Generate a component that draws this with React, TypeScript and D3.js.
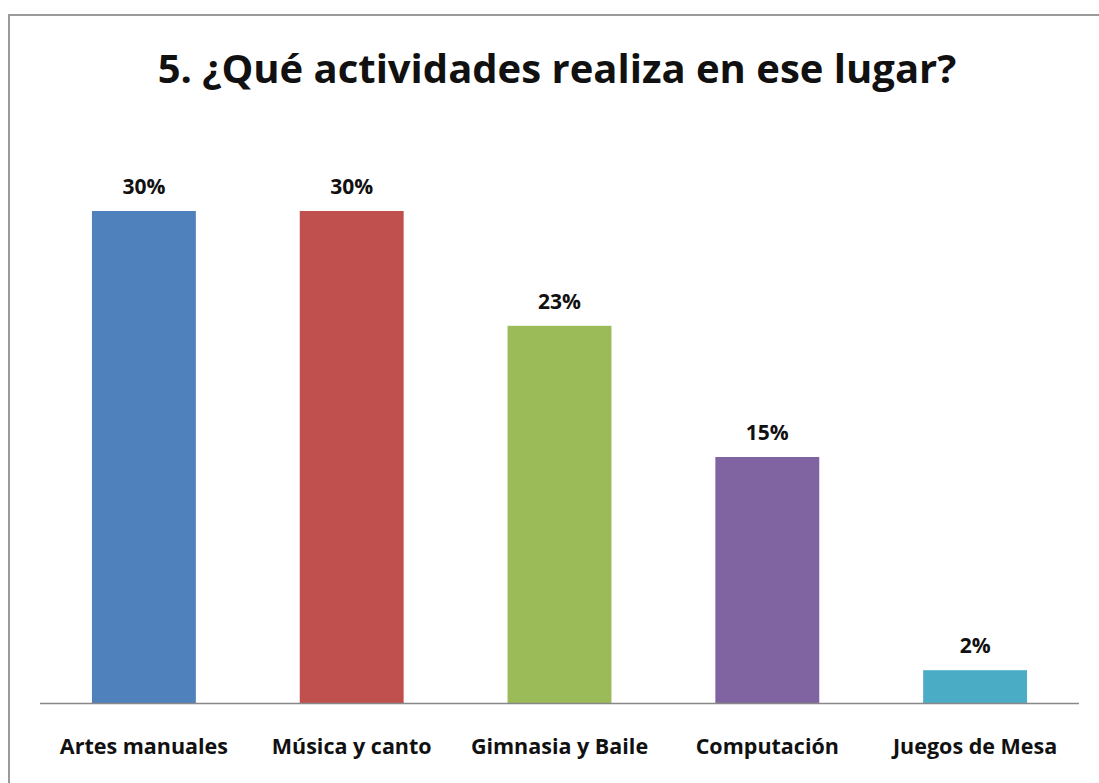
import React, { useEffect, useRef } from "react";
import * as d3 from "d3";

const categories = ["Artes manuales", "Música y canto", "Gimnasia y Baile", "Computación", "Juegos de Mesa"];
const values = [30, 30, 23, 15, 2];
const colors = ["#4f81bd", "#c0504d", "#9bbb59", "#8064a2", "#4bacc6"];
const title = "5. ¿Qué actividades realiza en ese lugar?";

const W = 1099;
const H = 783;
const FONT = "'Open Sans', sans-serif";

const App: React.FC = () => {
  const svgRef = useRef<SVGSVGElement>(null);

  useEffect(() => {
    document.body.style.margin = "0";
    if (!svgRef.current) return;
    const svg = d3.select(svgRef.current);
    svg.selectAll("*").remove();

    // chart frame (only left/top visible in the crop)
    svg.append("rect")
      .attr("x", 9).attr("y", 15)
      .attr("width", W + 20).attr("height", H + 20)
      .attr("fill", "#fff")
      .attr("stroke", "#9a9a9a")
      .attr("stroke-width", 2);

    svg.append("text")
      .attr("x", 557).attr("y", 83)
      .attr("text-anchor", "middle")
      .attr("font-family", FONT)
      .attr("font-weight", "bold")
      .attr("font-size", 40)
      .attr("fill", "#111")
      .text(title);

    const x = d3.scaleBand<string>()
      .domain(categories)
      .range([40, 1079])
      .paddingInner(0.5)
      .paddingOuter(0.25);

    const y = d3.scaleLinear().domain([0, 35]).range([703, 129]);

    svg.selectAll(".bar")
      .data(values)
      .enter().append("rect")
      .attr("class", "bar")
      .attr("x", (d, i) => x(categories[i])!)
      .attr("y", d => y(d))
      .attr("width", x.bandwidth())
      .attr("height", d => y(0) - y(d))
      .attr("fill", (d, i) => colors[i]);

    svg.selectAll(".val")
      .data(values)
      .enter().append("text")
      .attr("class", "val")
      .attr("x", (d, i) => x(categories[i])! + x.bandwidth() / 2)
      .attr("y", d => y(d) - 17)
      .attr("text-anchor", "middle")
      .attr("font-family", FONT)
      .attr("font-weight", "bold")
      .attr("font-size", 21)
      .attr("fill", "#111")
      .text(d => `${d}%`);

    svg.append("line")
      .attr("x1", 40).attr("x2", 1079)
      .attr("y1", 703.5).attr("y2", 703.5)
      .attr("stroke", "#888")
      .attr("stroke-width", 1.5);

    svg.selectAll(".cat")
      .data(categories)
      .enter().append("text")
      .attr("class", "cat")
      .attr("x", d => x(d)! + x.bandwidth() / 2)
      .attr("y", 754)
      .attr("text-anchor", "middle")
      .attr("font-family", FONT)
      .attr("font-weight", "bold")
      .attr("font-size", 21.5)
      .attr("fill", "#111")
      .text(d => d);
  }, []);

  return <svg ref={svgRef} width={W} height={H} style={{ display: "block", background: "#fff" }} />;
};

export default App;
